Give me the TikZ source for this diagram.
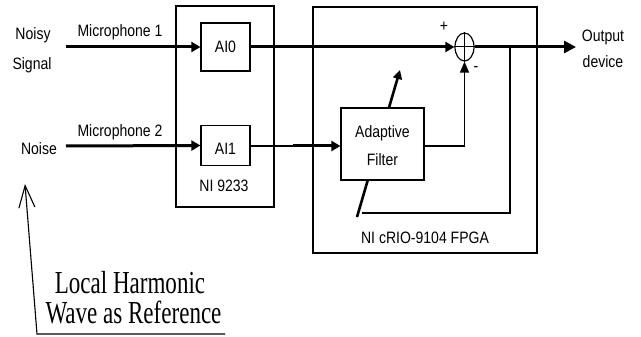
\documentclass[tikz,border=0pt]{standalone}
\usepackage{fontspec}
\setmainfont{Liberation Sans}
\newfontfamily\sansn[FakeStretch=0.85]{Liberation Sans}
\newfontfamily\serifn[FakeStretch=0.72]{Liberation Serif}
\usetikzlibrary{arrows.meta,shapes.geometric}
\tikzset{
  box/.style={draw,line width=1.2pt,fill=white,inner sep=0pt},
  lbl/.style={anchor=base,inner sep=0pt,font=\sansn\fontsize{16.5}{19}\selectfont},
  big/.style={anchor=base,inner sep=0pt,font=\serifn\fontsize{32}{32}\selectfont},
  sig/.style={line width=3pt,-{Triangle[length=9pt,width=10pt]}},
  thinl/.style={line width=1.5pt},
  fbl/.style={line width=1.2pt},
}
\begin{document}
\begin{tikzpicture}[x=1pt,y=-1pt]
\useasboundingbox (0,0) rectangle (641,337);
% outer boxes
\node[box,minimum width=98pt,minimum height=201pt] (ni) at (225,106.5) {};
\node[box,minimum width=224pt,minimum height=246pt] (fpga) at (425,130) {};
% inner boxes
\node[box,minimum width=49pt,minimum height=48pt] (ai0) at (225.5,47) {};
\node[box,minimum width=49pt,minimum height=40pt] (ai1) at (225.5,145.5) {};
% adaptation arrow (behind the filter box)
\coordinate (adl) at (357,217);
\coordinate (adu) at (400,70);
\draw[line width=2.6pt,-{Triangle[length=9pt,width=9pt]}] (adl) -- (adu);
\node[box,minimum width=83pt,minimum height=72pt] (af) at (382.5,144) {};
% summing junction
\node[draw,ellipse,line width=1.2pt,minimum width=19pt,minimum height=28pt,inner sep=0pt] (sum) at (464.5,47) {};
\draw[line width=1pt] (sum.north) -- (sum.south) (sum.west) -- (sum.east);
% coordinates
\coordinate (m1) at (66,47);
\coordinate (m2) at (66,146);
\coordinate (out) at (576,47);
\coordinate (fb) at (510,47);
\coordinate (fbe) at (362,213);
\coordinate (ai1m) at (293,146);
\coordinate (ht) at (25,184);
\coordinate (hb) at (37,334);
\coordinate (hr) at (225,334);
% connectors
\draw[sig] (m1) -- (ai0.west);
\draw[sig] (m2) -- (ai1.west);
\draw[sig] (ai0.east) -- (sum.west);
\draw[line width=3pt,-{Triangle[length=12pt,width=12pt]}] (sum.east) -- (out);
\draw[thinl] (ai1.east |- ai1m) -- (ai1m);
\draw[sig] (ai1m) -- (af.west |- ai1m);
\draw[thinl,-{Triangle[length=11pt,width=9pt]}] (af.east |- ai1m) -| (sum.south);
\draw[fbl] (fb) |- (fbe);
\draw[line width=1.1pt,-{Straight Barb[length=22pt,width=16pt]}] (hr) -- (hb) -- (ht);
% labels
\node[lbl] (t1) at (120,36.5) {Microphone 1};
\node[lbl] (t2) at (120,136.5) {Microphone 2};
\node[lbl] (t3) at (33,39.5) {Noisy};
\node[lbl] (t4) at (32,69.5) {Signal};
\node[lbl] (t5) at (39,155) {Noise};
\node[lbl] (t6) at (225.5,53) {AI0};
\node[lbl] (t7) at (225.5,154) {AI1};
\node[lbl] (t8) at (224,191.5) {NI 9233};
\node[lbl] (t9) at (382.5,137.5) {Adaptive};
\node[lbl] (t10) at (382.5,165) {Filter};
\node[lbl] (t11) at (603,41.5) {Output};
\node[lbl] (t12) at (603,68) {device};
\node[lbl] (t13) at (425,243) {NI cRIO-9104 FPGA};
\node[lbl] (t14) at (444,32) {+};
\node[lbl] (t15) at (476,72) {-};
\node[big] (t16) at (130,293) {Local Harmonic};
\node[big] (t17) at (133.5,323) {Wave as Reference};
\end{tikzpicture}
\end{document}
